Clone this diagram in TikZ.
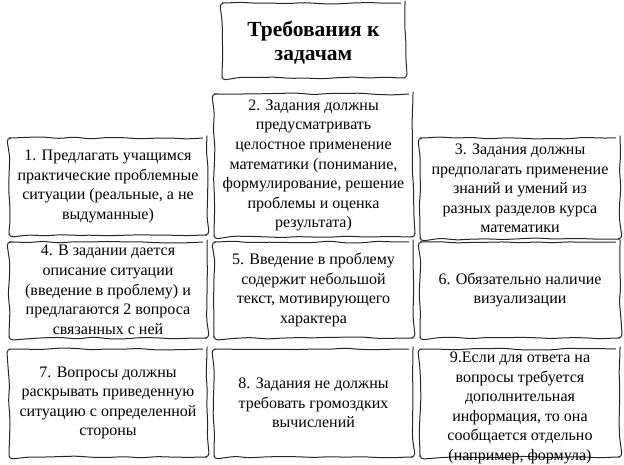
\documentclass[tikz,border=0pt]{standalone}
\usepackage{fontspec}
\setmainfont{Liberation Serif}
\usetikzlibrary{calc,decorations.pathmorphing}

\begin{document}
\begin{tikzpicture}[x=1pt,y=-1pt,
    box/.style={draw=black!85,line width=1pt,decorate,
      decoration={random steps,segment length=16pt,amplitude=1pt},rounded corners=4pt},
    txt/.style={align=center,inner sep=0pt,font=\fontsize{16}{19.6}\selectfont}]
            \pgfmathsetseed{7}
            \useasboundingbox (0,0) rectangle (624,465);

            \node[box,minimum width=183pt,minimum height=75pt] (t) at (313.5,40.5) {};
            \node[txt,font=\fontsize{21.5}{24}\selectfont\bfseries] at ($(t)+(0,2)$) {Требования к\\задачам};

            \foreach \n/\x/\y/\w/\h/\d/\s in {
              b1/108/186.5/198/97/0/{1. Предлагать учащимся\\практические проблемные\\ситуации (реальные, а не\\выдуманные)},
              b2/313.5/165.5/199/143/0/{2. Задания должны\\предусматривать\\целостное применение\\математики (понимание,\\формулирование, решение\\проблемы и оценка\\результата)},
              b3/520/188.5/200/101/0/{3. Задания должны\\предполагать применение\\знаний и умений из\\разных разделов курса\\математики},
              b4/108/290/198/96/0/{4. В задании дается\\описание ситуации\\(введение в проблему) и\\предлагаются 2 вопроса\\связанных с ней},
              b5/313.5/290/199/96/0/{5. Введение в проблему\\содержит небольшой\\текст, мотивирующего\\характера},
              b6/520/290/200/96/0/{6. Обязательно наличие\\визуализации},
              b7/108/403/198/108/0/{7. Вопросы должны\\раскрывать приведенную\\ситуацию с определенной\\стороны},
              b8/313.5/403/199/108/0/{8. Задания не должны\\требовать громоздких\\вычислений},
              b9/520/403/200/108/5/{9.Если для ответа на\\вопросы требуется\\дополнительная\\информация, то она\\сообщается отдельно\\(например, формула)}} {
            \node[box,minimum width=\w pt,minimum height=\h pt] (\n) at (\x,\y) {};
            \node[txt] at ($(\n)+(0,\d)$) {\s};}
\end{tikzpicture}
\end{document}
